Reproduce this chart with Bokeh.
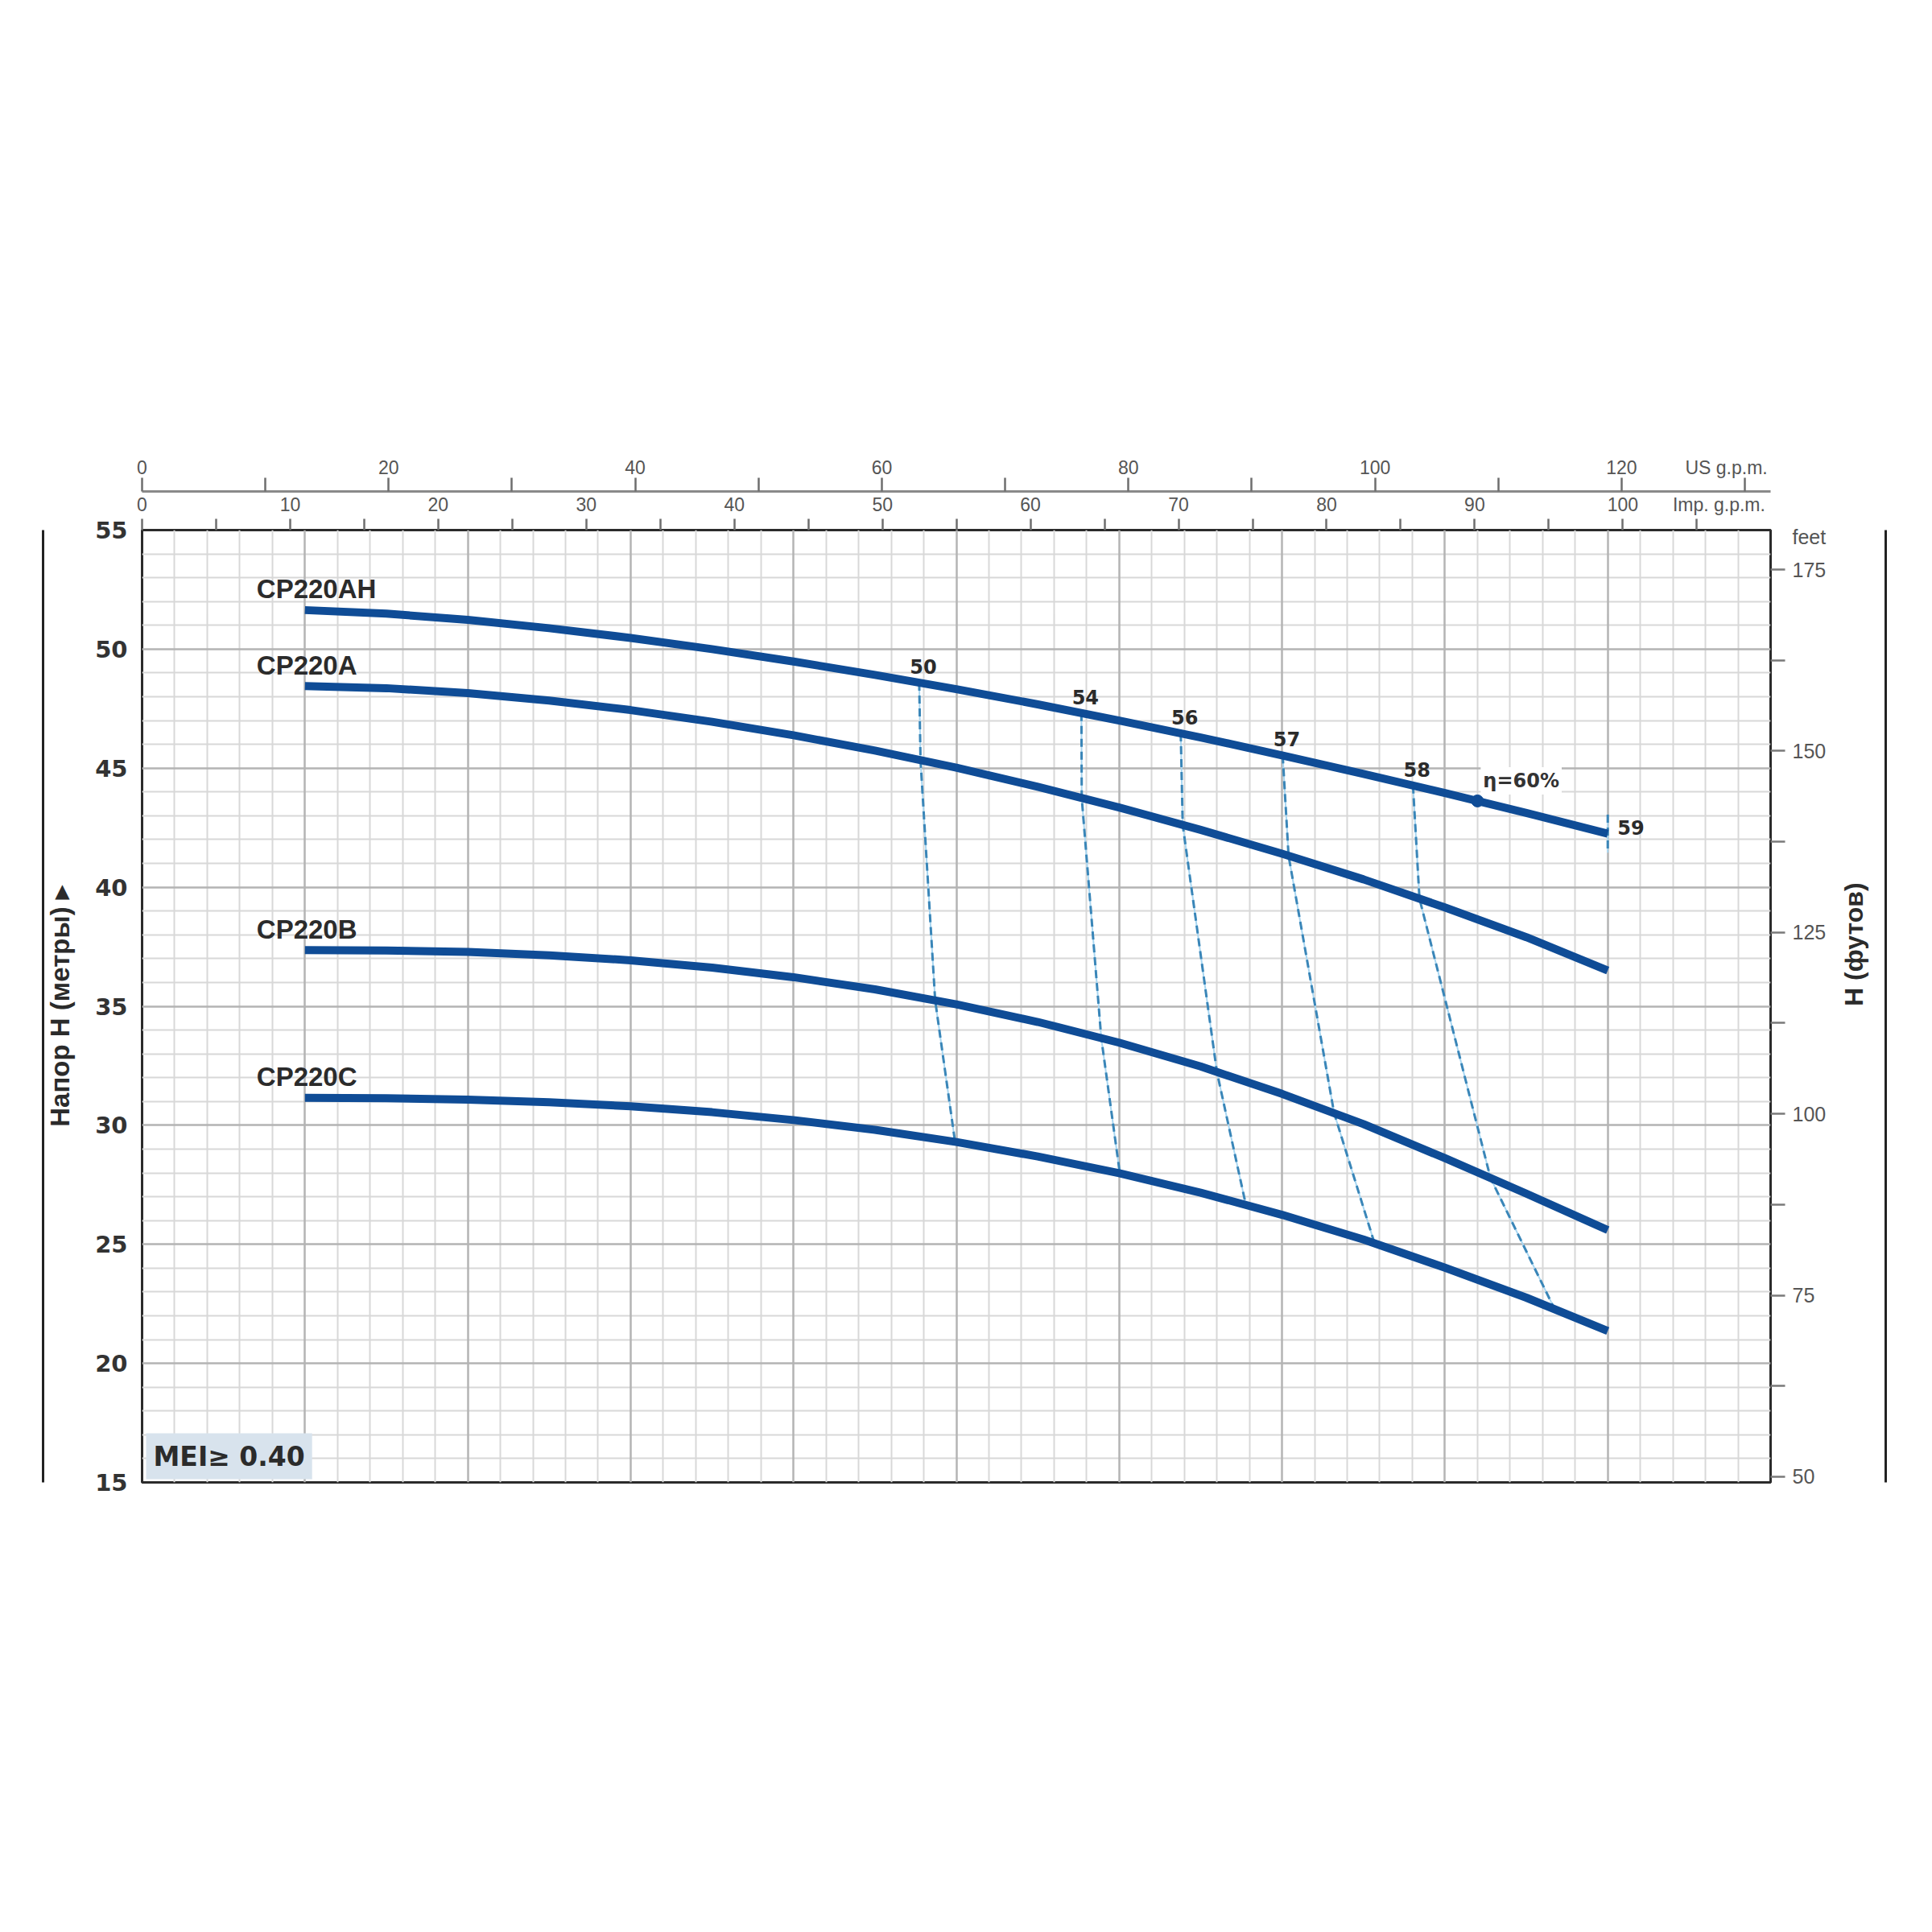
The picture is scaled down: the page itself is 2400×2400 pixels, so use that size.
import math
import numpy as np
from bokeh.plotting import figure
from bokeh.models import Range1d, LinearAxis, FixedTicker, Grid, Label
from bokeh.embed import file_html
from bokeh.resources import INLINE

# ---------------- data ----------------
flow_lpm = [50, 75, 100, 125, 150, 175, 200, 225, 250, 275, 300, 325, 350, 375, 400, 425, 450]
cp220ah = [51.64, 51.49, 51.23, 50.88, 50.47, 50.00, 49.48, 48.92, 48.32, 47.68, 47.00, 46.29, 45.54, 44.76, 43.96, 43.12, 42.25]
cp220a = [48.45, 48.36, 48.15, 47.84, 47.44, 46.95, 46.38, 45.74, 45.02, 44.22, 43.35, 42.41, 41.41, 40.33, 39.15, 37.90, 36.50]
cp220b = [37.36, 37.34, 37.28, 37.14, 36.93, 36.62, 36.22, 35.71, 35.08, 34.34, 33.47, 32.47, 31.32, 30.05, 28.62, 27.13, 25.60]
cp220c = [31.15, 31.14, 31.08, 30.97, 30.80, 30.55, 30.22, 29.81, 29.30, 28.69, 27.99, 27.17, 26.24, 25.20, 24.02, 22.76, 21.36]
curve_names = ["CP220AH", "CP220A", "CP220B", "CP220C"]

# iso-efficiency lines: flow where each line crosses AH, A, B, C curves
eff_labels = ["50", "54", "56", "57", "58"]
eff_q_ah = [238.6, 288.4, 318.9, 350.2, 390.2]
eff_q_a = [239.0, 288.5, 319.5, 352.0, 392.2]
eff_q_b = [243.5, 294.5, 330.0, 366.0, 414.0]
eff_q_c = [249.6, 300.2, 338.9, 378.4, 433.7]
eff59_label = "59"
eff59_q = [450, 450]
eff59_h = [43.05, 41.45]
eta60_q = 410
eta60_text = "η=60%"
mei_text = "MEI≥ 0.40"

head_ticks_m = [15, 20, 25, 30, 35, 40, 45, 50, 55]
head_ticks_ft = [50, 75, 100, 125, 150, 175]
imp_gpm_ticks = [0, 10, 20, 30, 40, 50, 60, 70, 80, 90, 100]
us_gpm_ticks = [0, 20, 40, 60, 80, 100, 120]
# where the unit names sit on the secondary axes
imp_unit_pos, imp_unit_text = 106.5, "Imp. g.p.m."
us_unit_pos, us_unit_text = 128.5, "US g.p.m."
ft_unit_pos, ft_unit_text = 179.5, "feet"

LPM_PER_IMP = 4.54609
LPM_PER_US = 3.785411784
FT_PER_M = 3.28084
Q_MAX = 500
H_MIN, H_MAX = 15, 55

CURVE_COLOR = "#0f4c96"
TEXT_DARK = "#2b2b2b"
AX_GRAY = "#555555"
SANS = "Liberation Sans"
WIDE = "DejaVu Sans"

p = figure(width=2384, height=2384,
           x_range=Range1d(0, Q_MAX), y_range=Range1d(H_MIN, H_MAX),
           output_backend="svg", toolbar_location=None,
           x_axis_location=None, y_axis_location=None,
           min_border_left=176, min_border_right=185,
           min_border_top=658, min_border_bottom=543,
           background_fill_color="white", border_fill_color="white",
           outline_line_color="#2b2b2b", outline_line_width=3)
p.xgrid.visible = False
p.ygrid.visible = False

# ---------------- grids ----------------
minor_x = [q for q in range(0, Q_MAX + 1, 10) if q % 50 != 0]
major_x = list(range(0, Q_MAX + 1, 50))
minor_y = [h for h in range(H_MIN, H_MAX + 1) if h % 5 != 0]
major_y = list(range(H_MIN, H_MAX + 1, 5))
p.add_layout(Grid(dimension=0, ticker=FixedTicker(ticks=minor_x), grid_line_color="#d8d8d8", grid_line_width=2))
p.add_layout(Grid(dimension=1, ticker=FixedTicker(ticks=minor_y), grid_line_color="#d8d8d8", grid_line_width=2))
p.add_layout(Grid(dimension=0, ticker=FixedTicker(ticks=major_x), grid_line_color="#b4b4b4", grid_line_width=2.5))
p.add_layout(Grid(dimension=1, ticker=FixedTicker(ticks=major_y), grid_line_color="#b4b4b4", grid_line_width=2.5))

# ---------------- axes ----------------
def style_ticks(ax, out_len, color="#6e6e6e"):
    # tick marks are drawn as "minor" ticks; "major" ticks only carry the labels
    ax.major_tick_in = 0
    ax.minor_tick_in = 0
    ax.major_tick_out = 0
    ax.minor_tick_out = out_len
    ax.major_tick_line_color = None
    ax.minor_tick_line_color = color
    ax.minor_tick_line_width = 2.5

# left: head in metres
ax_left = LinearAxis(ticker=FixedTicker(ticks=head_ticks_m), axis_label="Напор H (метры) ▸")
ax_left.axis_line_color = None
style_ticks(ax_left, 0)
ax_left.major_label_text_font = WIDE
ax_left.major_label_text_font_style = "bold"
ax_left.major_label_text_font_size = "29px"
ax_left.major_label_text_color = "#333333"
ax_left.major_label_standoff = 18
ax_left.axis_label_text_font = SANS
ax_left.axis_label_text_font_style = "bold"
ax_left.axis_label_text_font_size = "33px"
ax_left.axis_label_text_color = TEXT_DARK
ax_left.axis_label_standoff = 22
p.add_layout(ax_left, "left")

ax_left_line = LinearAxis(ticker=FixedTicker(ticks=[]))
ax_left_line.axis_line_color = "#222222"
ax_left_line.axis_line_width = 3
style_ticks(ax_left_line, 0)
p.add_layout(ax_left_line, "left")

# right: head in feet
p.extra_y_ranges = {"ft": Range1d(H_MIN * FT_PER_M, H_MAX * FT_PER_M)}
ft_marks = sorted(head_ticks_ft + [(a + b) / 2 for a, b in zip(head_ticks_ft[:-1], head_ticks_ft[1:])])
ax_ft = LinearAxis(y_range_name="ft",
                   ticker=FixedTicker(ticks=head_ticks_ft + [ft_unit_pos], minor_ticks=ft_marks),
                   axis_label="H (футов)")
ax_ft.axis_line_color = None
style_ticks(ax_ft, 18, "#7a7a7a")
ax_ft.major_label_overrides = {ft_unit_pos: ft_unit_text}
ax_ft.major_label_text_font = SANS
ax_ft.major_label_text_font_size = "25px"
ax_ft.major_label_text_color = AX_GRAY
ax_ft.major_label_standoff = 9
ax_ft.axis_label_text_font = SANS
ax_ft.axis_label_text_font_style = "bold"
ax_ft.axis_label_text_font_size = "32px"
ax_ft.axis_label_text_color = TEXT_DARK
ax_ft.axis_label_standoff = 32
if "axis_label_orientation" in LinearAxis.properties():
    ax_ft.axis_label_orientation = math.pi / 2
p.add_layout(ax_ft, "right")

ax_right_line = LinearAxis(y_range_name="ft", ticker=FixedTicker(ticks=[]))
ax_right_line.axis_line_color = "#222222"
ax_right_line.axis_line_width = 3
style_ticks(ax_right_line, 0)
p.add_layout(ax_right_line, "right")

# top: Imp. g.p.m. (closest) and US g.p.m.
p.extra_x_ranges = {"imp": Range1d(0, Q_MAX / LPM_PER_IMP), "us": Range1d(0, Q_MAX / LPM_PER_US)}
imp_marks = sorted(imp_gpm_ticks + [t + 5 for t in imp_gpm_ticks])
ax_imp = LinearAxis(x_range_name="imp",
                    ticker=FixedTicker(ticks=imp_gpm_ticks + [imp_unit_pos], minor_ticks=imp_marks))
ax_imp.axis_line_color = None
style_ticks(ax_imp, 14)
ax_imp.major_label_overrides = {imp_unit_pos: imp_unit_text}
ax_imp.major_label_text_font = SANS
ax_imp.major_label_text_font_size = "23px"
ax_imp.major_label_text_color = AX_GRAY
ax_imp.major_label_standoff = 5
p.add_layout(ax_imp, "above")

us_marks = sorted(us_gpm_ticks + [t + 10 for t in us_gpm_ticks])
ax_us = LinearAxis(x_range_name="us",
                   ticker=FixedTicker(ticks=us_gpm_ticks + [us_unit_pos], minor_ticks=us_marks))
ax_us.axis_line_color = "#8a8a8a"
ax_us.axis_line_width = 3
style_ticks(ax_us, 17)
ax_us.major_label_overrides = {us_unit_pos: us_unit_text}
ax_us.major_label_text_font = SANS
ax_us.major_label_text_font_size = "23px"
ax_us.major_label_text_color = AX_GRAY
ax_us.major_label_standoff = 0
p.add_layout(ax_us, "above")

# ---------------- iso-efficiency lines ----------------
curves = [cp220ah, cp220a, cp220b, cp220c]
for i, lab in enumerate(eff_labels):
    qs = [eff_q_ah[i], eff_q_a[i], eff_q_b[i], eff_q_c[i]]
    hs = [float(np.interp(q, flow_lpm, c)) for q, c in zip(qs, curves)]
    p.line(qs, hs, line_color="#a9d7f2", line_width=2)
    p.line(qs, hs, line_color="#3a86b8", line_width=3, line_dash="10 6")
p.line(eff59_q, eff59_h, line_color="#a9d7f2", line_width=2)
p.line(eff59_q, eff59_h, line_color="#3a86b8", line_width=3, line_dash="10 6")

# ---------------- pump curves ----------------
for name, c in zip(curve_names, curves):
    p.line(flow_lpm, c, line_color=CURVE_COLOR, line_width=10, line_join="round")
    p.add_layout(Label(x=flow_lpm[0], y=c[0], x_offset=-60, y_offset=26, text=name,
                       text_align="left", text_baseline="alphabetic",
                       text_font=SANS, text_font_style="bold",
                       text_font_size="33px", text_color=TEXT_DARK))

eta_h = float(np.interp(eta60_q, flow_lpm, cp220ah))
p.scatter([eta60_q], [eta_h], size=15, color=CURVE_COLOR)

# efficiency labels
for i, lab in enumerate(eff_labels):
    h = float(np.interp(eff_q_ah[i], flow_lpm, cp220ah))
    p.add_layout(Label(x=eff_q_ah[i], y=h, x_offset=5, y_offset=20, text=lab,
                       text_align="center", text_baseline="alphabetic",
                       text_font=WIDE, text_font_style="bold",
                       text_font_size="24px", text_color=TEXT_DARK))
p.add_layout(Label(x=flow_lpm[-1], y=cp220ah[-1], x_offset=12, y_offset=8, text=eff59_label,
                   text_align="left", text_baseline="middle",
                   text_font=WIDE, text_font_style="bold",
                   text_font_size="24px", text_color=TEXT_DARK))
p.add_layout(Label(x=eta60_q, y=eta_h, x_offset=4, y_offset=8, text=eta60_text,
                   text_align="left", text_baseline="bottom",
                   text_font=WIDE, text_font_style="bold",
                   text_font_size="24px", text_color="#333333",
                   background_fill_color="white", padding=3))

# MEI box
p.add_layout(Label(x=0, y=H_MIN, x_offset=5, y_offset=4, text=mei_text,
                   text_align="left", text_baseline="bottom",
                   text_font=WIDE, text_font_style="bold",
                   text_font_size="33px", text_color=TEXT_DARK,
                   background_fill_color="#d8e3ed", padding=9))

open("out.html", "w").write(file_html(p, INLINE))
